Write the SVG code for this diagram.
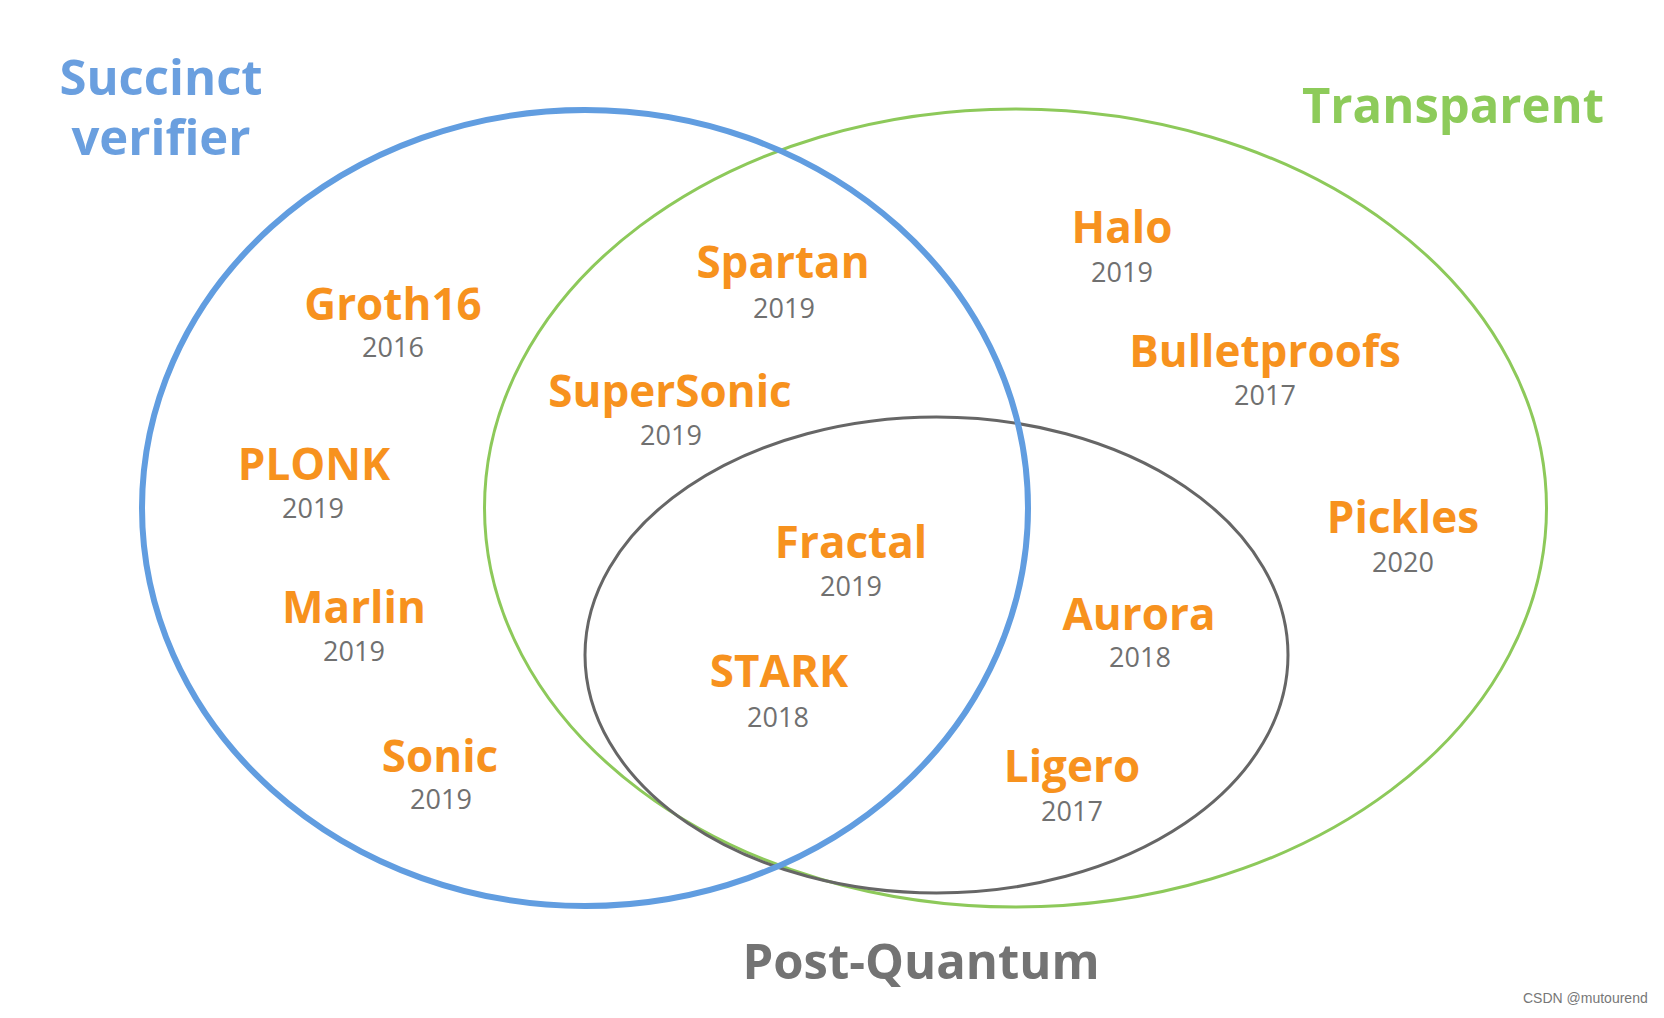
<svg xmlns="http://www.w3.org/2000/svg" width="1664" height="1018" viewBox="0 0 1664 1018">
<style>
.lbl{font-family:"Open Sans","DejaVu Sans",sans-serif;font-weight:700;font-size:44px;fill:#F7921E;text-anchor:middle}
.yr{font-family:"Open Sans","DejaVu Sans",sans-serif;font-weight:400;font-size:27px;fill:#707070;text-anchor:middle}
.ttl{font-family:"Open Sans","DejaVu Sans",sans-serif;font-weight:700;font-size:49px;text-anchor:middle}
</style>
<rect width="1664" height="1018" fill="#ffffff"/>
<g id="connectors">
<ellipse id="transparent-set" cx="1015.5" cy="508" rx="531" ry="399" fill="none" stroke="#8DC95A" stroke-width="3"/>
<ellipse id="postquantum-set" cx="936.5" cy="655" rx="351.5" ry="238" fill="none" stroke="#666666" stroke-width="3"/>
<ellipse id="succinct-set" cx="585" cy="508" rx="443" ry="398" fill="none" stroke="#619DE0" stroke-width="6"/>
</g>
<g id="title-succinct"><text class="ttl" fill="#6A9FDF" x="161" y="95">Succinct</text><text class="ttl" fill="#6A9FDF" x="161" y="155">verifier</text></g>
<g id="title-transparent"><text class="ttl" fill="#8DCB5A" x="1453" y="123">Transparent</text></g>
<g id="title-postquantum"><text class="ttl" fill="#737373" x="921" y="979">Post-Quantum</text></g>
<g id="groth16"><text class="lbl" x="393" y="320">Groth16</text><text class="yr" x="393" y="357">2016</text></g>
<g id="spartan"><text class="lbl" x="783" y="278">Spartan</text><text class="yr" x="784" y="318">2019</text></g>
<g id="halo"><text class="lbl" x="1122" y="243">Halo</text><text class="yr" x="1122" y="282">2019</text></g>
<g id="bulletproofs"><text class="lbl" x="1265" y="367">Bulletproofs</text><text class="yr" x="1265" y="405">2017</text></g>
<g id="supersonic"><text class="lbl" x="670" y="407">SuperSonic</text><text class="yr" x="671" y="445">2019</text></g>
<g id="plonk"><text class="lbl" x="314" y="480">PLONK</text><text class="yr" x="313" y="518">2019</text></g>
<g id="pickles"><text class="lbl" x="1403" y="533">Pickles</text><text class="yr" x="1403" y="572">2020</text></g>
<g id="fractal"><text class="lbl" x="851" y="558">Fractal</text><text class="yr" x="851" y="596">2019</text></g>
<g id="marlin"><text class="lbl" x="354" y="623">Marlin</text><text class="yr" x="354" y="661">2019</text></g>
<g id="aurora"><text class="lbl" x="1139" y="630">Aurora</text><text class="yr" x="1140" y="667">2018</text></g>
<g id="stark"><text class="lbl" x="779" y="687">STARK</text><text class="yr" x="778" y="727">2018</text></g>
<g id="sonic"><text class="lbl" x="440" y="772">Sonic</text><text class="yr" x="441" y="809">2019</text></g>
<g id="ligero"><text class="lbl" x="1072" y="782">Ligero</text><text class="yr" x="1072" y="821">2017</text></g>
<text x="1523" y="1003" font-family="Liberation Sans, Arial, sans-serif" font-size="14" fill="#777777">CSDN @mutourend</text>
</svg>
